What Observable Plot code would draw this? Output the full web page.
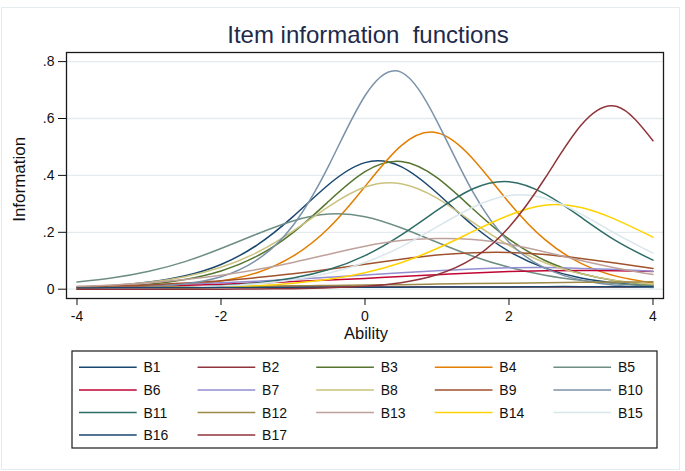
<!DOCTYPE html>
<html><head><meta charset="utf-8">
<script src="https://cdn.jsdelivr.net/npm/d3@7"></script>
<script src="https://cdn.jsdelivr.net/npm/@observablehq/plot@0.6"></script>
<style>
html,body{margin:0;padding:0;background:#fff;}
#chart{width:685px;height:471px;}
svg{font-family:"Liberation Sans",Arial,Helvetica,sans-serif;}
</style></head><body><div id="chart"></div>
<script>
// ---- data ----
const theta = [-4,-3.5,-3,-2.5,-2,-1.5,-1,-0.5,0,0.5,1,1.5,2,2.5,3,3.5,4];
const itemNames = ["B1","B2","B3","B4","B5","B6","B7","B8","B9","B10","B11","B12","B13","B14","B15","B16","B17"];
const B1  = [.007,.013,.025,.047,.087,.155,.255,.369,.445,.431,.338,.224,.133,.074,.039,.021,.011];
const B2  = [.007,.007,.007,.007,.008,.008,.008,.008,.008,.008,.008,.008,.008,.008,.008,.008,.007];
const B3  = [.005,.009,.017,.034,.064,.116,.199,.310,.413,.449,.392,.282,.176,.101,.055,.029,.015];
const B4  = [.002,.003,.007,.014,.029,.058,.116,.216,.361,.504,.550,.458,.305,.174,.091,.045,.022];
const B5  = [.025,.040,.063,.097,.143,.194,.240,.264,.255,.216,.165,.116,.077,.049,.031,.019,.011];
const B6  = [.007,.009,.011,.014,.017,.022,.027,.032,.038,.045,.051,.057,.062,.065,.066,.065,.062];
const B7  = [.008,.011,.014,.018,.023,.028,.035,.042,.050,.058,.065,.071,.075,.076,.073,.069,.063];
const B8  = [.007,.013,.024,.044,.077,.129,.204,.291,.359,.371,.320,.235,.154,.093,.054,.030,.017];
const B9  = [.008,.011,.015,.022,.030,.041,.054,.070,.088,.105,.120,.128,.129,.122,.108,.091,.073];
const B10 = [.001,.003,.008,.019,.044,.103,.224,.436,.680,.763,.590,.341,.165,.074,.032,.013,.006];
const B11 = [.001,.002,.003,.006,.012,.022,.039,.069,.118,.190,.277,.353,.378,.335,.253,.168,.102];
const B12 = [.005,.006,.007,.008,.009,.010,.012,.013,.015,.016,.018,.020,.021,.023,.024,.025,.026];
const B13 = [.010,.015,.023,.034,.049,.069,.094,.123,.151,.171,.178,.175,.158,.131,.101,.074,.052];
const B14 = [.001,.001,.002,.004,.007,.012,.021,.035,.058,.093,.143,.203,.260,.295,.287,.243,.183];
const B15 = [.001,.002,.003,.006,.011,.019,.033,.057,.094,.149,.219,.288,.329,.320,.265,.193,.127];
const B16 = [.004,.005,.005,.005,.006,.006,.006,.007,.007,.007,.008,.008,.008,.009,.009,.009,.009];
const B17 = [0,0,0,0,0,.001,.002,.005,.010,.023,.051,.108,.218,.390,.576,.642,.522];
const xTicks = [-4,-2,0,2,4];
const yTicks = [0,.2,.4,.6,.8];
const yTickLabels = ["0",".2",".4",".6",".8"];
const titleText = "Item information  functions";
const xLabel = "Ability";
const yLabel = "Information";

// ---- styling ----
const palette = ["#1a476f","#90353b","#55752f","#e37e00","#6e8e84","#c10534","#938dd2","#cac27e",
                 "#a0522d","#7b92a8","#2d6d66","#9c8847","#bfa19c","#ffd200","#d9e6eb","#1a476f","#90353b"];
const font = '"Liberation Sans",Arial,Helvetica,sans-serif';

const seriesValues = [B1,B2,B3,B4,B5,B6,B7,B8,B9,B10,B11,B12,B13,B14,B15,B16,B17];
const table = itemNames.flatMap((name,i) => theta.map((t,j) => ({item:name, theta:t, info:seriesValues[i][j]})));

const plot = Plot.plot({
  width: 685, height: 471,
  marginTop: 52, marginBottom: 173, marginLeft: 66, marginRight: 22,
  style: {fontFamily: font, fontSize: "14px", color: "#111", background: "transparent", overflow: "visible"},
  x: {domain: [-4.146, 4.146]},
  y: {domain: [-0.0327, 0.832]},
  color: {domain: itemNames, range: palette},
  marks: [
    Plot.ruleY(yTicks, {stroke: "#e3ebee", strokeWidth: 1.3}),
    Plot.line(table, {x: "theta", y: "info", z: "item", stroke: "item", curve: "natural", strokeWidth: 1.5}),
    Plot.frame({stroke: "#1a1a1a", strokeWidth: 1.3}),
    Plot.axisX({ticks: xTicks, tickSize: 7, tickPadding: 6, fontSize: 14, label: null, tickFormat: d => String(d)}),
    Plot.axisY({ticks: yTicks, tickSize: 8, tickPadding: 4, fontSize: 14, label: null, tickFormat: (d,i) => yTickLabels[i]})
  ]
});
document.getElementById("chart").appendChild(plot);

const svg = d3.select(plot);
// faint outer border
svg.insert("rect", ":first-child").attr("x",1.5).attr("y",7.5).attr("width",678).attr("height",462)
   .attr("fill","none").attr("stroke","#e4ecef").attr("stroke-width",1);
// title
svg.append("text").attr("x",368).attr("y",42.7).attr("text-anchor","middle")
   .attr("font-size",24).attr("fill","#1e2a4a").attr("font-family",font)
   .style("white-space","pre").text(titleText);
// axis titles
svg.append("text").attr("x",366).attr("y",338.5).attr("text-anchor","middle")
   .attr("font-size",16.5).attr("fill","#111").attr("font-family",font).text(xLabel);
svg.append("text").attr("transform","translate(25,179.3) rotate(-90)").attr("text-anchor","middle")
   .attr("font-size",17).attr("fill","#111").attr("font-family",font).text(yLabel);
// legend
const lg = svg.append("g");
lg.append("rect").attr("x",72).attr("y",351).attr("width",585).attr("height",97)
  .attr("fill","#fff").attr("stroke","#1a1a1a").attr("stroke-width",1.2);
itemNames.forEach((name,i) => {
  const col = i % 5, row = Math.floor(i / 5);
  const x0 = 79 + col * 118.6, yc = 367.3 + row * 22.6;
  lg.append("line").attr("x1",x0).attr("x2",x0+57.7).attr("y1",yc).attr("y2",yc)
    .attr("stroke",palette[i]).attr("stroke-width",1.5);
  lg.append("text").attr("x",x0+64.5).attr("y",yc+5).attr("font-size",14).attr("text-anchor","start")
    .attr("fill","#111").attr("font-family",font).text(name);
});
</script></body></html>
